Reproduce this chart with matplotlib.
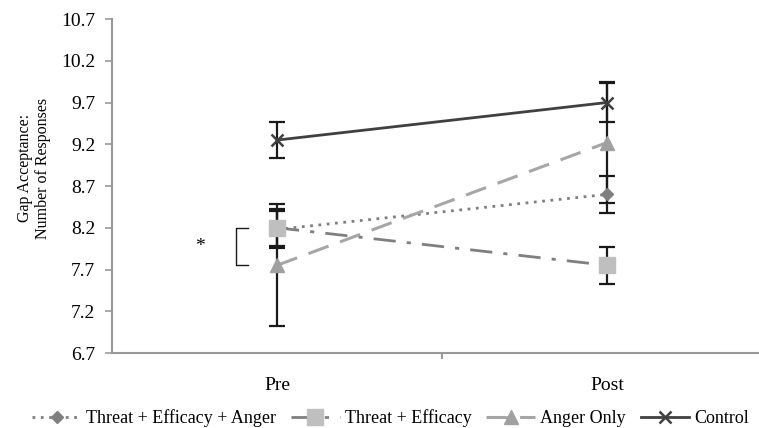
import matplotlib
matplotlib.use("Agg")
import matplotlib.pyplot as plt

plt.rcParams['font.family'] = ['Liberation Serif', 'DejaVu Serif']

# data
phases = ['Pre', 'Post']
tea_mean = [8.18, 8.60]      # Threat + Efficacy + Anger
tea_err = [0.22, 0.22]
te_mean = [8.20, 7.75]       # Threat + Efficacy
te_err = [0.22, 0.22]
anger_mean = [7.75, 9.22]    # Anger Only
anger_err = [0.73, 0.72]
ctrl_mean = [9.25, 9.70]     # Control
ctrl_err = [0.22, 0.23]

y_ticks = [6.7, 7.2, 7.7, 8.2, 8.7, 9.2, 9.7, 10.2, 10.7]

W, H = 759, 428
fig = plt.figure(figsize=(W / 100, H / 100), dpi=100)
ax = fig.add_axes([112 / W, (H - 353) / H, 660 / W, 334 / H])

x = list(range(len(phases)))

# error bars first, markers sit on top of them
for m, e in [(tea_mean, tea_err), (te_mean, te_err), (anger_mean, anger_err), (ctrl_mean, ctrl_err)]:
    ax.errorbar(x, m, yerr=e, fmt='none', ecolor='#1a1a1a', elinewidth=1.6,
                capsize=5.5, capthick=1.6, zorder=2)

ax.plot(x, tea_mean, linestyle=(0, (1, 2)), color='#7f7f7f', lw=2,
        marker='D', ms=6, mfc='#7f7f7f', mec='#7f7f7f', label='Threat + Efficacy + Anger', zorder=3)
ax.plot(x, te_mean, linestyle=(0, (8, 4, 1.5, 4)), color='#7f7f7f', lw=2,
        marker='s', ms=11, mfc='#bfbfbf', mec='#bfbfbf', label='Threat + Efficacy', zorder=4)
ax.plot(x, anger_mean, linestyle=(0, (7, 4)), color='#a6a6a6', lw=2.2,
        marker='^', ms=10, mfc='#a0a0a0', mec='#a0a0a0', label='Anger Only', zorder=4)
ax.plot(x, ctrl_mean, linestyle='-', color='#404040', lw=2,
        marker='x', ms=8, mew=1.8, label='Control', zorder=4)

# significance bracket between pre conditions
bx, bt = -0.124, -0.088
ax.plot([bt, bx, bx, bt], [te_mean[0], te_mean[0], anger_mean[0], anger_mean[0]],
        color='#1a1a1a', lw=1, clip_on=False)
ax.text(-0.235, (te_mean[0] + anger_mean[0]) / 2, '*', ha='center', va='center', fontsize=14)

ax.set_xlim(-0.5, 1.5)
ax.set_ylim(6.7, 10.7)
ax.set_yticks(y_ticks)
ax.set_yticklabels(['%.1f' % v for v in y_ticks])
ax.set_xticks(x)
ax.set_xticklabels(phases)
ax.set_xticks([0.5], minor=True)
ax.tick_params(axis='x', which='major', length=0, pad=17, labelsize=14)
ax.tick_params(axis='x', which='minor', length=4, color='#999999', width=1.5)
ax.tick_params(axis='y', length=5, color='#999999', width=1.2, labelsize=14, pad=7)

for s in ['top', 'right']:
    ax.spines[s].set_visible(False)
for s in ['left', 'bottom']:
    ax.spines[s].set_color('#999999')
    ax.spines[s].set_linewidth(1.5)

fig.text(34 / W, 1 - 168 / H, 'Gap Acceptance:\nNumber of Responses', rotation=90,
         ha='center', va='center', fontsize=11.5, linespacing=1.15)

fig.legend(loc='center', bbox_to_anchor=(0.515, 1 - 418 / H), ncol=4, frameon=False,
           fontsize=13, handlelength=2.7, columnspacing=0.8, handletextpad=0.3)

fig.savefig('out.png', dpi=100)
